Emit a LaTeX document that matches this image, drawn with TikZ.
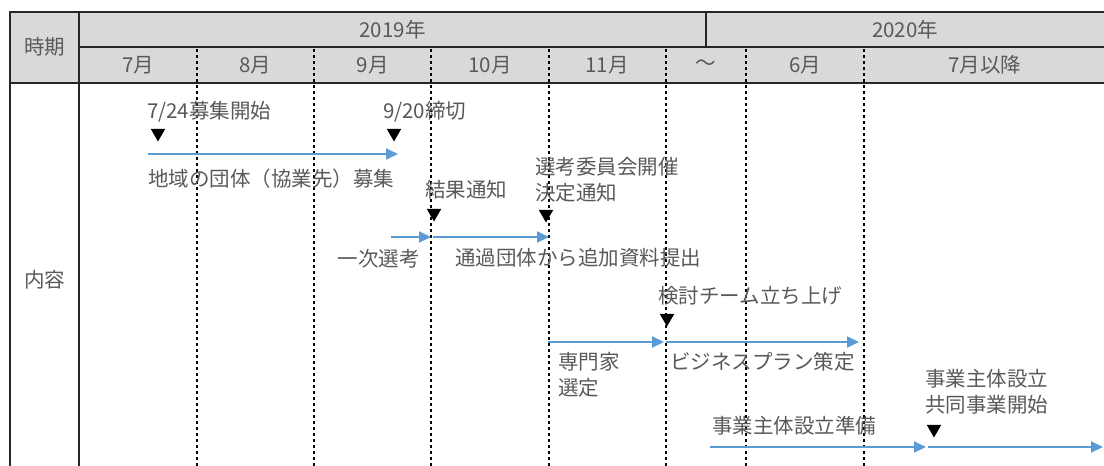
\documentclass[tikz,border=0pt]{standalone}
\usepackage{fontspec}
\setmainfont{Noto Sans CJK JP}
\usetikzlibrary{positioning}
\usetikzlibrary{shapes.geometric}
\usetikzlibrary{arrows.meta}

\definecolor{hdrgray}{HTML}{D9D9D9}
\definecolor{txtgray}{HTML}{595959}
\definecolor{barblue}{HTML}{5B9BD5}

\begin{document}
\begin{tikzpicture}[x=1pt,y=-1pt,node distance=117.3pt,
	every node/.style={text=txtgray,font=\fontsize{20.5}{26}\selectfont,inner sep=0pt},
	lbl/.style={anchor=west,align=left},
	tri/.style={regular polygon,regular polygon sides=3,shape border rotate=180,
		fill=black,minimum size=17pt},
	bar/.style={draw=barblue,line width=2pt,-{Triangle[length=12pt,width=11pt]}},
	grid line/.style={draw=black!85,line width=1.8pt},
	month line/.style={draw=black,line width=2.4pt,dash pattern=on 3pt off 3pt}]
	
	\useasboundingbox (0,0) rectangle (1104,466);
	\fill[hdrgray] (10,12) rectangle (1104,83);
	
	% month separators
	\foreach \x in {197,314,431,549,666,746,864}
		\draw[month line] (\x,49) -- (\x,466);
	
	% table frame
	\draw[grid line] (10,466) -- (10,12) -- (1104,12);
	\draw[grid line] (79,12) -- (79,466);
	\draw[grid line] (79,47) -- (1104,47);
	\draw[grid line] (10,83) -- (1104,83);
	\draw[grid line] (706,12) -- (706,47);
	
	% header
	\node (jiki) at (44.5,47) {時期};
	\node (naiyo) at (44.5,280) {内容};
	\node (y2019) at (392.5,29.5) {2019年};
	\node (y2020) at (905,29.5) {2020年};
	\node (m7) at (138,65) {7月};
	\node (m8) [right of=m7] {8月};
	\node (m9) [right of=m8] {9月};
	\node (m10) [right of=m9] {10月};
	\node (m11) [right of=m10] {11月};
	\node (gap) at (706,65) {～};
	\node (m6) at (805,65) {6月};
	\node (m7b) at (985,65) {7月以降};
	
	% milestones
	\node[tri] (t1) at (158,133) {};
	\node[tri] (t2) at (394,133) {};
	\node[tri] (t3) at (434,213) {};
	\node[tri] (t4) at (546,214) {};
	\node[tri] (t5) at (667,318) {};
	\node[tri] (t6) at (934,429) {};
	\node[lbl] (l1) at (147,112) {7/24募集開始};
	\node[lbl] (l2) at (383,112) {9/20締切};
	\node[lbl] (l3) at (425,190) {結果通知};
	\node[lbl] (l4) at (535,179.5) {選考委員会開催\\決定通知};
	\node[lbl] (l5) at (658,296) {検討チーム立ち上げ};
	\node[lbl] (l6) at (925,391.5) {事業主体設立\\共同事業開始};
	
	% bars
	\coordinate (b1s) at (148,154);
	\coordinate (b1e) at (398,154);
	\coordinate (b2s) at (391,237);
	\coordinate (b2e) at (431,237);
	\coordinate (b3s) at (433,237);
	\coordinate (b3e) at (549,237);
	\coordinate (b4s) at (548,342);
	\coordinate (b4e) at (664,342);
	\coordinate (b5s) at (666,342);
	\coordinate (b5e) at (859,342);
	\coordinate (b6s) at (710,447);
	\coordinate (b6e) at (926,447);
	\coordinate (b7s) at (928,447);
	\coordinate (b7e) at (1103,447);
	\draw[bar] (b1s) -- (b1e);
	\draw[bar] (b2s) -- (b2e);
	\draw[bar] (b3s) -- (b3e);
	\draw[bar] (b4s) -- (b4e);
	\draw[bar] (b5s) -- (b5e);
	\draw[bar] (b6s) -- (b6e);
	\draw[bar] (b7s) -- (b7e);
	\node[lbl] (d1) at (148,179) {地域の団体（協業先）募集};
	\node[anchor=east] (d2) at (420,259) {一次選考};
	\node[lbl] (d3) at (455,258) {通過団体から追加資料提出};
	\node[lbl] (d4) at (558,374.5) {専門家\\選定};
	\node[lbl] (d5) at (670,362) {ビジネスプラン策定};
	\node[lbl] (d6) at (712,426) {事業主体設立準備};
\end{tikzpicture}
\end{document}
